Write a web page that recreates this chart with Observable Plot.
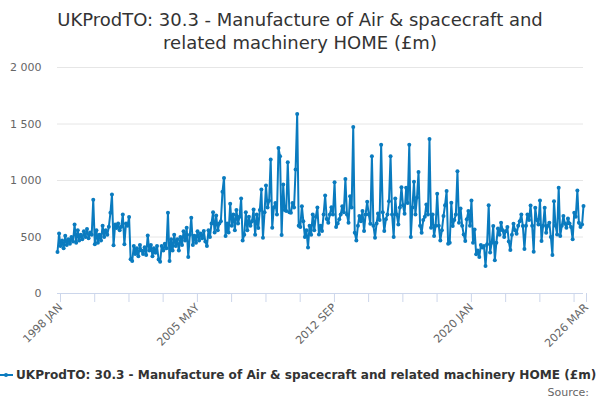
<!DOCTYPE html>
<html><head><meta charset="utf-8">
<script src="https://cdn.jsdelivr.net/npm/d3@7"></script>
<script src="https://cdn.jsdelivr.net/npm/@observablehq/plot@0.6"></script>
<style>
body{margin:0;background:#fff;font-family:"DejaVu Sans",sans-serif;}
#wrap{position:relative;width:600px;height:400px;overflow:hidden;background:#fff;}
#title{position:absolute;top:8px;left:0;width:600px;text-align:center;font-size:18px;line-height:23px;color:#333;}
#chart{position:absolute;top:56px;left:0;}
#legend{position:absolute;top:367px;left:0;white-space:nowrap;font-size:12.1px;font-weight:bold;color:#333;line-height:16px;}
#legend .sym{display:inline-block;position:relative;width:14px;height:16px;vertical-align:top;margin-right:2px;}
#legend .sym .ln{position:absolute;left:0;top:7px;width:13px;height:2px;}
#legend .sym .dt{position:absolute;left:4px;top:6px;width:4px;height:4px;border-radius:2px;}
#source{position:absolute;top:386px;right:11px;font-size:11px;color:#666;}
</style></head>
<body>
<div id="wrap">
  <div id="title"></div>
  <div id="chart"></div>
  <div id="legend"></div>
  <div id="source"></div>
</div>
<script>
const titleLines = ["UKProdTO: 30.3 - Manufacture of Air & spacecraft and", "related machinery HOME (£m)"];
const seriesName = "UKProdTO: 30.3 - Manufacture of Air & spacecraft and related machinery HOME (£m)";
const sourceText = "Source:";
const seriesColor = "#0a7bbf";
const startYear = 1998;
const monthNames = ["JAN","FEB","MAR","APR","MAY","JUN","JUL","AUG","SEP","OCT","NOV","DEC"];
// monthly values, £m, one row per year Jan..Dec (1998 .. 2026 Mar)
const values = [
  367, 530, 420, 470, 400, 510, 430, 480, 440, 500, 460, 610,
  450, 560, 470, 520, 480, 550, 500, 570, 490, 540, 520, 829,
  435, 560, 450, 520, 470, 600, 500, 560, 520, 590, 714, 876,
  426, 610, 580, 620, 560, 590, 700, 435, 620, 600, 676, 303,
  288, 420, 350, 400, 330, 430, 380, 350, 410, 340, 514, 380,
  430, 330, 400, 360, 420, 300, 280, 420, 380, 440, 400, 714,
  288, 480, 380, 520, 420, 480, 380, 500, 430, 550, 470, 582,
  323, 520, 670, 430, 510, 450, 550, 470, 530, 490, 553, 460,
  420, 560, 500, 620, 720, 540, 690, 560, 620, 640, 900, 1023,
  509, 620, 540, 794, 600, 700, 560, 740, 620, 680, 841, 470,
  520, 720, 560, 680, 600, 640, 744, 520, 700, 580, 740, 920,
  494, 720, 955, 760, 820, 1185, 582, 760, 800, 700, 1288, 1214,
  517, 964, 740, 730, 1161, 720, 714, 800, 760, 1097, 1588, 600,
  588, 773, 640, 500, 560, 406, 600, 520, 700, 560, 680, 760,
  523, 600, 553, 700, 867, 660, 626, 700, 764, 700, 985, 588,
  620, 656, 700, 773, 720, 1014, 700, 626, 861, 760, 1473, 538,
  470, 600, 685, 640, 729, 553, 700, 811, 700, 617, 1214, 600,
  494, 620, 709, 650, 1317, 720, 553, 656, 700, 817, 1214, 700,
  500, 841, 700, 611, 760, 941, 780, 705, 935, 800, 1317, 500,
  760, 988, 700, 850, 1076, 600, 538, 650, 679, 788, 700, 1367,
  582, 700, 509, 600, 882, 600, 470, 560, 685, 780, 906, 441,
  450, 803, 597, 650, 700, 1082, 626, 753, 600, 523, 464, 656,
  729, 600, 823, 450, 567, 347, 380, 323, 429, 406, 420, 244,
  435, 782, 362, 450, 597, 294, 450, 576, 520, 626, 560, 500,
  550, 588, 460, 385, 520, 617, 560, 529, 600, 640, 700, 597,
  394, 600, 700, 650, 779, 600, 370, 758, 650, 611, 823, 464,
  600, 758, 538, 600, 626, 500, 341, 817, 600, 523, 935, 509,
  600, 685, 620, 582, 664, 620, 588, 479, 714, 680, 911, 626,
  588, 610, 775
];
const yTicks = [0, 500, 1000, 1500, 2000];
const xTickLabels = ["1998 JAN", "2005 MAY", "2012 SEP", "2020 JAN", "2026 MAR"];
const xTickStepMonths = 22;

const data = values.map((v, i) => ({date: new Date(Date.UTC(startYear, i, 1)), value: v}));
const first = data[0].date, last = data[data.length - 1].date;

const labelAt = new Map(xTickLabels.map(s => {
  const [yy, mm] = s.split(" ");
  return [Date.UTC(+yy, monthNames.indexOf(mm), 1), s];
}));
const xTicks = [];
for (let i = 0; i < values.length; i += xTickStepMonths) xTicks.push(new Date(Date.UTC(startYear, i, 1)));
if (+xTicks[xTicks.length - 1] !== +last) xTicks.push(last);

const fmtY = d => d3.format(",")(d).replace(/,/g, " ");

document.getElementById("title").innerHTML = titleLines.map(t => `<div>${t.replace(/&/g,"&amp;")}</div>`).join("");
document.getElementById("legend").innerHTML =
  `<span class="sym"><span class="ln" style="background:${seriesColor}"></span><span class="dt" style="background:${seriesColor}"></span></span>` +
  seriesName.replace(/&/g, "&amp;");
document.getElementById("source").textContent = sourceText;

const chart = Plot.plot({
  width: 600,
  height: 300,
  marginTop: 11,
  marginBottom: 63,
  marginLeft: 57,
  marginRight: 17,
  style: {fontFamily: "DejaVu Sans, sans-serif", fontSize: "11px", background: "transparent", color: "#666"},
  x: {type: "utc", domain: [first, last]},
  y: {domain: [0, 2000]},
  marks: [
    Plot.gridY(yTicks.filter(d => d > 0), {stroke: "#e6e6e6", strokeOpacity: 1}),
    Plot.ruleY([0], {stroke: "#ccd6eb"}),
    Plot.axisY({ticks: yTicks, tickSize: 0, tickPadding: 16, tickFormat: fmtY, fill: "#666", label: null}),
    Plot.axisX({ticks: xTicks, tickSize: 9, stroke: "#ccd6eb", strokeOpacity: 1, tickRotate: -45,
      tickPadding: 3, dx: 3, tickFormat: d => labelAt.get(+d) || "", fill: "#666", label: null}),
    Plot.line(data, {x: "date", y: "value", stroke: seriesColor, strokeWidth: 2}),
    Plot.dot(data, {x: "date", y: "value", fill: seriesColor, r: 2})
  ]
});
document.getElementById("chart").appendChild(chart);
</script>
</body></html>
